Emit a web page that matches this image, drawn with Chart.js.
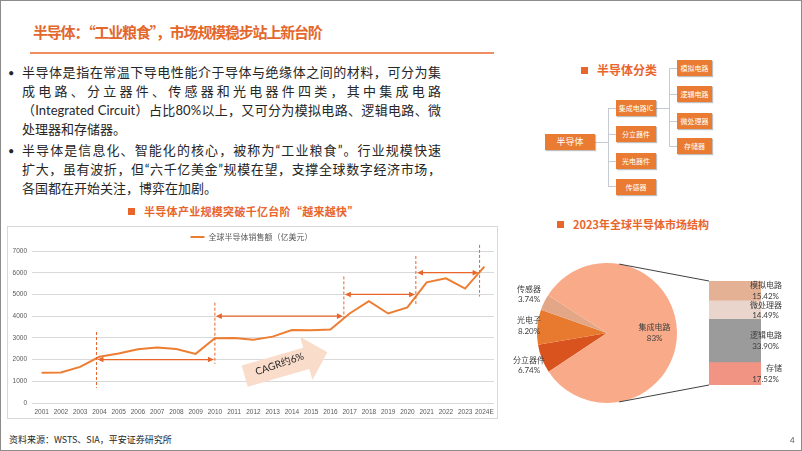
<!DOCTYPE html>
<html>
<head>
<meta charset="utf-8">
<script src="https://cdn.jsdelivr.net/npm/chart.js@4.4.1/dist/chart.umd.min.js"></script>
<style>
  body { margin: 0; background: #fff; }
  #slide { position: relative; width: 802px; height: 451px; box-sizing: border-box; border: 1px solid #8c8c8c; overflow: hidden; background: #fff; font-family: Lato, "Noto Sans CJK SC", sans-serif; color: #262626; }
  .abs { position: absolute; }
  .ln { position: absolute; left: 21px; width: 419px; font-size: 13px; line-height: 19px; white-space: nowrap; text-align: justify; text-align-last: justify; }
  .ln.last { text-align-last: left; }
  .dot { position: absolute; left: 7px; font-size: 11px; line-height: 19px; }
  .hd { position: absolute; font-weight: bold; color: #E8652B; white-space: nowrap; font-family: "Noto Sans CJK SC", sans-serif; }
  .sq { display: inline-block; width: 7px; height: 7px; background: #E8652B; margin-right: 9px; vertical-align: 1px; }
  .box { position: absolute; background: #E97B32; color: #fff; font-size: 7px; text-align: center; box-shadow: 1px 1px 1px rgba(0,0,0,0.25); font-family: "Noto Sans CJK SC", sans-serif; }
  .wire { position: absolute; background: #C5CBD3; }
</style>
</head>
<body>
<div id="slide">
  <div class="hd" style="left:32px;top:20px;font-size:15px;letter-spacing:-1.2px;color:#E4672C">半导体：“工业粮食”，市场规模稳步站上新台阶</div>
  <div class="abs" style="left:29px;top:51px;width:464px;height:2px;background:#EF8E63"></div>

  <div class="dot" style="top:62px">•</div>
  <div class="ln" style="top:62px">半导体是指在常温下导电性能介于导体与绝缘体之间的材料，可分为集</div>
  <div class="ln" style="top:81px">成电路、分立器件、传感器和光电器件四类，其中集成电路</div>
  <div class="ln" style="top:100px">（Integrated Circuit）占比80%以上，又可分为模拟电路、逻辑电路、微</div>
  <div class="ln last" style="top:119px">处理器和存储器。</div>
  <div class="dot" style="top:140px">•</div>
  <div class="ln" style="top:140px">半导体是信息化、智能化的核心，被称为“工业粮食”。行业规模快速</div>
  <div class="ln" style="top:159px">扩大，虽有波折，但“六千亿美金”规模在望，支撑全球数字经济市场，</div>
  <div class="ln last" style="top:178px">各国都在开始关注，博弈在加剧。</div>

  <div class="hd" style="left:127px;top:202px;font-size:11px;letter-spacing:0.3px"><span class="sq"></span>半导体产业规模突破千亿台阶“越来越快”</div>
  <div class="abs" style="left:6px;top:225px;width:489px;height:191px;border:1px solid #D9D9D9"></div>
  <canvas id="lineChart" class="abs" style="left:8px;top:227px" width="487" height="190"></canvas>

  <div class="hd" style="left:580px;top:60px;font-size:12px"><span class="sq"></span>半导体分类</div>
  <div class="wire" style="left:594px;top:141px;width:13px;height:1px"></div>
  <div class="wire" style="left:607px;top:107px;width:1px;height:79px"></div>
  <div class="wire" style="left:607px;top:107px;width:8px;height:1px"></div>
  <div class="wire" style="left:607px;top:133px;width:8px;height:1px"></div>
  <div class="wire" style="left:607px;top:160px;width:8px;height:1px"></div>
  <div class="wire" style="left:607px;top:185px;width:8px;height:1px"></div>
  <div class="wire" style="left:655px;top:107px;width:13px;height:1px"></div>
  <div class="wire" style="left:668px;top:67px;width:1px;height:79px"></div>
  <div class="wire" style="left:668px;top:67px;width:8px;height:1px"></div>
  <div class="wire" style="left:668px;top:93px;width:8px;height:1px"></div>
  <div class="wire" style="left:668px;top:120px;width:8px;height:1px"></div>
  <div class="wire" style="left:668px;top:145px;width:8px;height:1px"></div>
  <div class="box" style="left:544px;top:133px;width:50px;height:16px;line-height:16px;font-size:9px">半导体</div>
  <div class="box" style="left:615px;top:99px;width:40px;height:16px;line-height:16px">集成电路IC</div>
  <div class="box" style="left:615px;top:125px;width:40px;height:16px;line-height:16px">分立器件</div>
  <div class="box" style="left:615px;top:152px;width:40px;height:16px;line-height:16px">光电器件</div>
  <div class="box" style="left:615px;top:178px;width:40px;height:16px;line-height:16px">传感器</div>
  <div class="box" style="left:676px;top:59px;width:35px;height:16px;line-height:16px">模拟电路</div>
  <div class="box" style="left:676px;top:85px;width:35px;height:16px;line-height:16px">逻辑电路</div>
  <div class="box" style="left:676px;top:112px;width:35px;height:16px;line-height:16px">微处理器</div>
  <div class="box" style="left:676px;top:137px;width:35px;height:16px;line-height:16px">存储器</div>

  <div class="hd" style="left:556px;top:215px;font-size:11px"><span class="sq"></span>2023年全球半导体市场结构</div>
  <canvas id="pieChart" class="abs" style="left:500px;top:255px" width="300" height="155"></canvas>
  <canvas id="barChart" class="abs" style="left:700px;top:270px" width="100" height="125"></canvas>

  <div class="abs" style="left:8px;top:432px;font-size:9px;white-space:nowrap;font-family:'Noto Sans CJK SC',sans-serif">资料来源：WSTS、SIA，平安证券研究所</div>
  <div class="abs" style="left:789px;top:434px;font-size:8px;color:#595959">4</div>
</div>

<script>
// global semiconductor sales, 100M USD
const years = ['2001', '2002', '2003', '2004', '2005', '2006', '2007', '2008', '2009', '2010', '2011', '2012',
  '2013', '2014', '2015', '2016', '2017', '2018', '2019', '2020', '2021', '2022', '2023', '2024E'];
const sales = [1390, 1410, 1664, 2130, 2275, 2477, 2556, 2486, 2263, 2983, 2995, 2916,
  3056, 3358, 3352, 3389, 4122, 4688, 4123, 4404, 5559, 5741, 5268, 6280];
const yTicks = [0, 1000, 2000, 3000, 4000, 5000, 6000, 7000];

// step markers: [category index, value top, value bottom]
const stepLines = [[2.85, 3270, 700], [9, 4620, 1800], [15.7, 5830, 3920], [19.44, 6770, 4480], [22.75, 7280, 4900]];
// step spans: [from index, to index, value]
const stepSpans = [[2.9, 8.95, 2000], [9.05, 15.65, 4000], [15.75, 19.4, 5000], [19.5, 22.7, 6000]];

// 2023 market structure (%)
const pieLabels = ['分立器件', '光电子', '传感器', '集成电路'];
const pieShares = [6.74, 8.20, 3.74, 83];
const pieColors = ['#D9531F', '#E87A2F', '#E3A687', '#F9AA88'];

// IC breakdown, bottom to top
const icParts = ['存储', '逻辑电路', '微处理器', '模拟电路'];
const icShares = [17.52, 33.90, 14.49, 15.42];
const icColors = ['#F29484', '#9B9B9B', '#E9D5CB', '#E4B194'];

const orange = '#E8652B';

function pct(v) {
  return (v >= 50 ? String(v) : v.toFixed(2)) + '%';
}

const lineNotes = {
  id: 'lineNotes',
  beforeDatasetsDraw(chart) {
    const { ctx, scales: { x, y } } = chart;
    const step = x.getPixelForValue(1) - x.getPixelForValue(0);
    const ax = x.getPixelForValue(0) + 10.55 * step;
    const ay = y.getPixelForValue(1240);
    ctx.save();
    ctx.translate(ax, ay);
    ctx.rotate(-16 * Math.PI / 180);
    ctx.fillStyle = '#FADCCB';
    ctx.beginPath();
    ctx.moveTo(0, -11); ctx.lineTo(64, -11); ctx.lineTo(64, -22.5); ctx.lineTo(86, 0);
    ctx.lineTo(64, 22.5); ctx.lineTo(64, 11); ctx.lineTo(0, 11); ctx.closePath();
    ctx.fill();
    ctx.rotate(-3 * Math.PI / 180);
    ctx.fillStyle = '#262626';
    ctx.font = '10px Lato, "Noto Sans CJK SC"';
    ctx.textAlign = 'center';
    ctx.textBaseline = 'middle';
    ctx.fillText('CAGR约6%', 37, 0);
    ctx.restore();
  },
  afterDatasetsDraw(chart) {
    const { ctx, scales: { x, y } } = chart;
    const step = x.getPixelForValue(1) - x.getPixelForValue(0);
    const px = i => x.getPixelForValue(0) + i * step;
    ctx.save();
    ctx.strokeStyle = orange;
    ctx.fillStyle = orange;
    ctx.lineWidth = 1;
    ctx.setLineDash([3, 2]);
    stepLines.forEach(([i, v1, v2]) => {
      ctx.beginPath();
      ctx.moveTo(px(i), y.getPixelForValue(v1));
      ctx.lineTo(px(i), y.getPixelForValue(v2));
      ctx.stroke();
    });
    ctx.setLineDash([]);
    ctx.lineWidth = 1.2;
    stepSpans.forEach(([i1, i2, v]) => {
      const x1 = px(i1), x2 = px(i2), yy = y.getPixelForValue(v);
      ctx.beginPath();
      ctx.moveTo(x1 + 3, yy); ctx.lineTo(x2 - 3, yy);
      ctx.stroke();
      ctx.beginPath();
      ctx.moveTo(x1, yy); ctx.lineTo(x1 + 6, yy - 2.8); ctx.lineTo(x1 + 6, yy + 2.8); ctx.closePath();
      ctx.moveTo(x2, yy); ctx.lineTo(x2 - 6, yy - 2.8); ctx.lineTo(x2 - 6, yy + 2.8); ctx.closePath();
      ctx.fill();
    });
    ctx.restore();
  }
};

new Chart(document.getElementById('lineChart'), {
  type: 'line',
  data: {
    labels: years,
    datasets: [{
      label: '全球半导体销售额（亿美元）',
      data: sales,
      borderColor: '#ED7D31',
      backgroundColor: '#ED7D31',
      borderWidth: 2,
      pointRadius: 0,
      tension: 0
    }]
  },
  options: {
    responsive: false,
    animation: false,
    devicePixelRatio: 1,
    layout: { padding: { top: 0, right: 2, bottom: 0, left: 0 } },
    plugins: {
      legend: {
        labels: {
          usePointStyle: true,
          pointStyle: 'line',
          pointStyleWidth: 14,
          color: '#595959',
          font: { size: 8, family: '"Noto Sans CJK SC", sans-serif' },
          padding: 5
        }
      },
      tooltip: { enabled: false }
    },
    scales: {
      x: {
        offset: true,
        grid: { display: false, drawTicks: false },
        border: { display: false },
        ticks: { color: '#595959', font: { size: 6.5 }, maxRotation: 0, autoSkip: false, padding: 5 },
        afterFit(s) { s.height = 15; s.paddingRight = 0; s.paddingLeft = 0; }
      },
      y: {
        min: 0,
        max: 7000,
        grid: { color: '#D9D9D9', drawTicks: false },
        border: { display: false },
        ticks: { color: '#595959', font: { size: 6.5 }, padding: 5, autoSkip: false, callback: v => String(v) },
        afterBuildTicks(s) { s.ticks = yTicks.map(v => ({ value: v })); },
        afterFit(s) { s.width = 23; }
      }
    }
  },
  plugins: [lineNotes]
});

const barNotes = {
  id: 'barNotes',
  afterDraw(chart) {
    const ctx = chart.ctx;
    ctx.save();
    ctx.fillStyle = '#404040';
    ctx.textAlign = 'right';
    ctx.textBaseline = 'middle';
    icParts.forEach((name, i) => {
      const el = chart.getDatasetMeta(i).data[0];
      const yc = (el.y + el.base) / 2;
      ctx.font = '8px "Noto Sans CJK SC"';
      ctx.fillText(name, 81, yc - 5.5);
      ctx.font = '8px Lato';
      ctx.fillText(pct(icShares[i]), 78, yc + 5.5);
    });
    ctx.restore();
  }
};

const barChart = new Chart(document.getElementById('barChart'), {
  type: 'bar',
  data: {
    labels: ['集成电路'],
    datasets: icParts.map((name, i) => ({
      label: name,
      data: [icShares[i]],
      backgroundColor: icColors[i],
      borderWidth: 0,
      barPercentage: 1,
      categoryPercentage: 1
    }))
  },
  options: {
    responsive: false,
    animation: false,
    devicePixelRatio: 1,
    layout: { padding: { left: 8, right: 40, top: 10, bottom: 11 } },
    plugins: { legend: { display: false }, tooltip: { enabled: false } },
    scales: {
      x: { stacked: true, display: false },
      y: { stacked: true, display: false, min: 0, max: icShares.reduce((a, b) => a + b, 0) }
    }
  },
  plugins: [barNotes]
});

const pieNotes = {
  id: 'pieNotes',
  afterDraw(chart) {
    const ctx = chart.ctx;
    const arcs = chart.getDatasetMeta(0).data;
    const cx = arcs[0].x, cy = arcs[0].y, r = arcs[0].outerRadius;
    ctx.save();
    ctx.fillStyle = '#404040';
    ctx.textAlign = 'center';
    ctx.textBaseline = 'middle';
    arcs.forEach((a, i) => {
      const mid = (a.startAngle + a.endAngle) / 2;
      let lx, ly;
      if (pieShares[i] > 50) {
        lx = cx + r * 0.68 * Math.cos(mid);
        ly = cy + r * 0.68 * Math.sin(mid);
      } else {
        lx = cx - r - 8;
        ly = cy + (r + 18) * Math.sin(mid);
      }
      ctx.font = '8px "Noto Sans CJK SC"';
      ctx.fillText(pieLabels[i], lx, ly - 5.5);
      ctx.font = '8px Lato';
      ctx.fillText(pct(pieShares[i]), lx, ly + 5.5);
    });

    // connectors from the pie to the IC breakdown bar
    const offX = 200, offY = 15;
    const bottomEl = barChart.getDatasetMeta(0).data[0];
    const topEl = barChart.getDatasetMeta(icParts.length - 1).data[0];
    const barLeft = bottomEl.x - bottomEl.width / 2 + offX;
    const t = -80 * Math.PI / 180, b = 80 * Math.PI / 180;
    ctx.strokeStyle = '#404040';
    ctx.lineWidth = 1;
    ctx.beginPath();
    ctx.moveTo(cx + r * Math.cos(t), cy + r * Math.sin(t));
    ctx.lineTo(barLeft, topEl.y + offY);
    ctx.moveTo(cx + r * Math.cos(b), cy + r * Math.sin(b));
    ctx.lineTo(barLeft, bottomEl.base + offY);
    ctx.stroke();
    ctx.restore();
  }
};

new Chart(document.getElementById('pieChart'), {
  type: 'pie',
  data: {
    labels: pieLabels,
    datasets: [{ data: pieShares, backgroundColor: pieColors, borderWidth: 0 }]
  },
  options: {
    responsive: false,
    animation: false,
    devicePixelRatio: 1,
    rotation: 236.5,
    layout: { padding: { left: 36, right: 124, top: 7, bottom: 8 } },
    plugins: { legend: { display: false }, tooltip: { enabled: false } }
  },
  plugins: [pieNotes]
});
</script>
</body>
</html>
